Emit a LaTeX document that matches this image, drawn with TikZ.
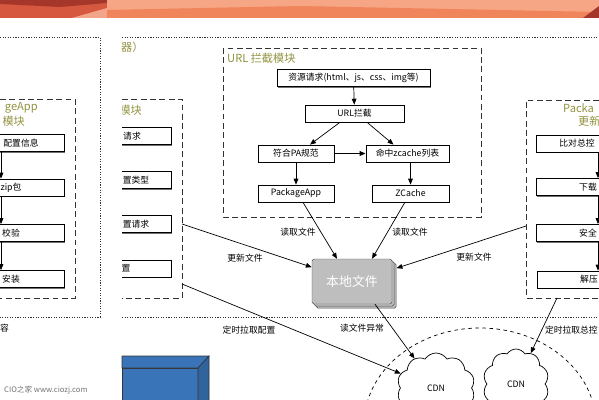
\documentclass[tikz,border=0pt]{standalone}
\usepackage{fontspec}
\setmainfont{Noto Sans CJK SC}
\usetikzlibrary{arrows.meta,shapes.symbols,shadows}
\definecolor{modtitle}{RGB}{146,146,64}
\definecolor{filegray}{RGB}{190,190,190}
\definecolor{boxblue}{RGB}{58,116,184}
\definecolor{bandlight}{RGB}{246,166,132}
\definecolor{bandmid}{RGB}{240,132,90}
\definecolor{bandred}{RGB}{214,88,62}
\definecolor{banddark}{RGB}{165,55,42}
\definecolor{bandpink}{RGB}{243,165,138}
\begin{document}
\begin{tikzpicture}[x=0.03cm, y=-0.03cm,
    box/.style={draw, fill=white, line width=0.7pt, minimum height=0.51cm, inner sep=0pt,
        font=\fontsize{7.5}{9}\selectfont,
        drop shadow={shadow xshift=0.9pt, shadow yshift=-0.9pt, opacity=0.8, fill=black!70}},
    panel/.style={draw=black!80, line width=0.6pt, dash pattern=on 5pt off 3pt},
    outer/.style={draw=black!80, line width=0.7pt, dash pattern=on 1pt off 1.2pt},
    title/.style={text=modtitle, font=\fontsize{9.5}{11}\selectfont, inner sep=0pt},
    lbl/.style={font=\fontsize{7.5}{9}\selectfont, inner sep=1pt},
    arr/.style={-{Triangle[length=5pt,width=4pt]}, line width=0.6pt},
    stack/.style={draw=black!70, fill=filegray, rounded corners=1.5pt, minimum width=2.4cm,
        minimum height=1.35cm, text=white, font=\fontsize{11}{12}\selectfont,
        double copy shadow={shadow xshift=1.8pt, shadow yshift=-1.8pt}},
    cdn/.style={cloud, draw, line width=0.6pt, cloud puffs=10, cloud puff arc=115, aspect=1,
        font=\fontsize{7.5}{9}\selectfont}
]
\clip (0,0) rectangle (599,400);

\fill[bandred] (0,0) rectangle (107,18);
\fill[banddark] (0,0) -- (107,0) -- (107,3) -- (60,7) -- (0,4) -- cycle;
\fill[bandpink] (72,18) -- (107,8) -- (107,18) -- cycle;
\fill[bandlight] (107,0) rectangle (599,18);
\fill[bandmid] (107,10) -- (300,6) -- (599,12) -- (599,18) -- (107,18) -- cycle;
\fill[banddark] (583,18) -- (599,6) -- (599,18) -- cycle;

\draw[outer] (0,37) -- (100,37) -- (100,317) -- (0,317);
\draw[outer] (122,37) -- (599,37);
\draw[outer] (122,317) -- (599,317);
\node[title, anchor=west] (ttop) at (121,47) {器）};
\node[lbl, anchor=west, inner sep=0pt] (cont) at (0,328) {容};

\draw[panel] (0,99) -- (75,99) -- (75,298) -- (0,298);
\node[title, anchor=east] (ltit1) at (38,108) {geApp};
\node[title, anchor=east] (ltit2) at (25,121) {模块};
\node[box, minimum width=2.58cm] (cfg) at (21,143) {配置信息};
\node[box, minimum width=3.18cm] (zip) at (11,187.5) {zip包};
\node[box, minimum width=3.18cm] (chk) at (11,233) {校验};
\node[box, minimum width=3.18cm] (inst) at (11,279) {安装};
\coordinate (lx) at (1,0);
\draw[arr] (cfg.south -| lx) -- (zip.north -| lx);
\draw[arr] (zip.south -| lx) -- (chk.north -| lx);
\draw[arr] (chk.south -| lx) -- (inst.north -| lx);

\begin{scope}
\clip (122,90) rectangle (200,305);
\draw[panel] (122,99) -- (182,99) -- (182,298) -- (122,298);
\node[title, anchor=east] (mtit) at (142,110) {模块};
\node[box, minimum width=2.34cm] (m1) at (132,136) {请求};
\node[box, minimum width=2.1cm] (m2) at (136,180) {置类型};
\node[box, minimum width=2.1cm] (m3) at (136,224) {置请求};
\node[box, minimum width=2.7cm] (m4) at (126,268.5) {置};
\end{scope}
\coordinate (midA) at (182,224);
\coordinate (midB) at (182,284);

\draw[panel] (223,48) rectangle (481,217);
\node[title, anchor=west] (utit) at (227,58) {URL 拦截模块};
\node[box, minimum width=4.59cm] (res) at (353.5,78) {资源请求(html、js、css、img等)};
\node[box, minimum width=2.97cm] (intc) at (354.5,113.5) {URL拦截};
\node[box, minimum width=2.28cm] (pa) at (296,153.5) {符合PA规范};
\node[box, minimum width=2.49cm] (hit) at (407.5,153.5) {命中zcache列表};
\node[box, minimum width=2.28cm] (pkg) at (296,193.5) {PackageApp};
\node[box, minimum width=2.31cm] (zc) at (410.5,193.5) {ZCache};
\draw[arr] (res) -- (intc);
\draw[arr] ([xshift=-0.44cm]intc.south) -- ([xshift=0.42cm]pa.north);
\draw[arr] ([xshift=0.38cm]intc.south) -- ([xshift=-0.42cm]hit.north);
\draw[arr, line width=1pt] (pa) -- (hit);
\draw[arr] (pa) -- (pkg);
\draw[arr] (zc.north |- hit.south) -- (zc.north);

\draw[panel] (599,100) -- (526,100) -- (526,298) -- (599,298);
\node[title, anchor=west] (rtit1) at (563,108) {Packa};
\node[title, anchor=west] (rtit2) at (578,121) {更新};
\node[box, minimum width=2.46cm] (r1) at (577,143.5) {比对总控};
\node[box, minimum width=3.12cm] (r2) at (588,187) {下载};
\node[box, minimum width=3.12cm] (r3) at (588,233) {安全};
\node[box, minimum width=3.12cm] (r4) at (589,279.5) {解压};
\coordinate (rx) at (598,0);
\draw[arr] (r1.south -| rx) -- (r2.north -| rx);
\draw[arr] (r2.south -| rx) -- (r3.north -| rx);
\draw[arr] (r3.south -| rx) -- (r4.north -| rx);
\coordinate (rgtA) at (526,226);
\coordinate (rgtB) at (557,298);

\node[stack] (local) at (352,281.5) {本地文件};

\draw[arr] ([xshift=0.21cm]pkg.south) -- ([xshift=-0.45cm]local.north);
\draw[arr] ([xshift=-0.17cm]zc.south) -- ([xshift=0.6cm]local.north);
\node[lbl] (rd1) at (298,232) {读取文件};
\node[lbl] (rd2) at (410,232) {读取文件};
\draw[arr] (midA) -- ([yshift=0.43cm]local.west);
\node[lbl] (upd1) at (245,258) {更新文件};
\draw[arr] (rgtA) -- ([xshift=0.13cm, yshift=0.4cm]local.east);
\node[lbl] (upd2) at (474,257) {更新文件};

\draw[dashed, line width=0.6pt] (480,425) ellipse [x radius=3.48cm, y radius=2.91cm];
\node[cdn, minimum width=2.34cm, minimum height=2.1cm] (cdn1) at (436,388) {CDN};
\node[cdn, minimum width=1.98cm, minimum height=2.1cm] (cdn2) at (516,384) {CDN};

\draw[arr] ([xshift=0.69cm]local.south) -- (cdn1);
\node[lbl] (rdexc) at (362,328) {读文件异常};
\draw[arr] (midB) -- (cdn1);
\node[lbl] (pull1) at (249,330) {定时拉取配置};
\draw[arr] (rgtB) -- (cdn2);
\node[lbl, anchor=east, inner sep=0pt] (pull2) at (598,330) {定时拉取总控};

\fill[boxblue, draw=black!80, line width=0.5pt] (122,368) rectangle (198,402);
\fill[boxblue, draw=black!80, line width=0.5pt] (122,356) -- (209,356) -- (198,368) -- (122,368) -- cycle;
\fill[boxblue!85!black, draw=black!80, line width=0.5pt] (198,368) -- (209,356) -- (209,402) -- (198,402) -- cycle;
\node[font=\fontsize{6.5}{7}\selectfont, text=black!55, anchor=west, inner sep=0pt] (wm) at (4,390) {CIO之家 www.ciozj.com};

\end{tikzpicture}
\end{document}
